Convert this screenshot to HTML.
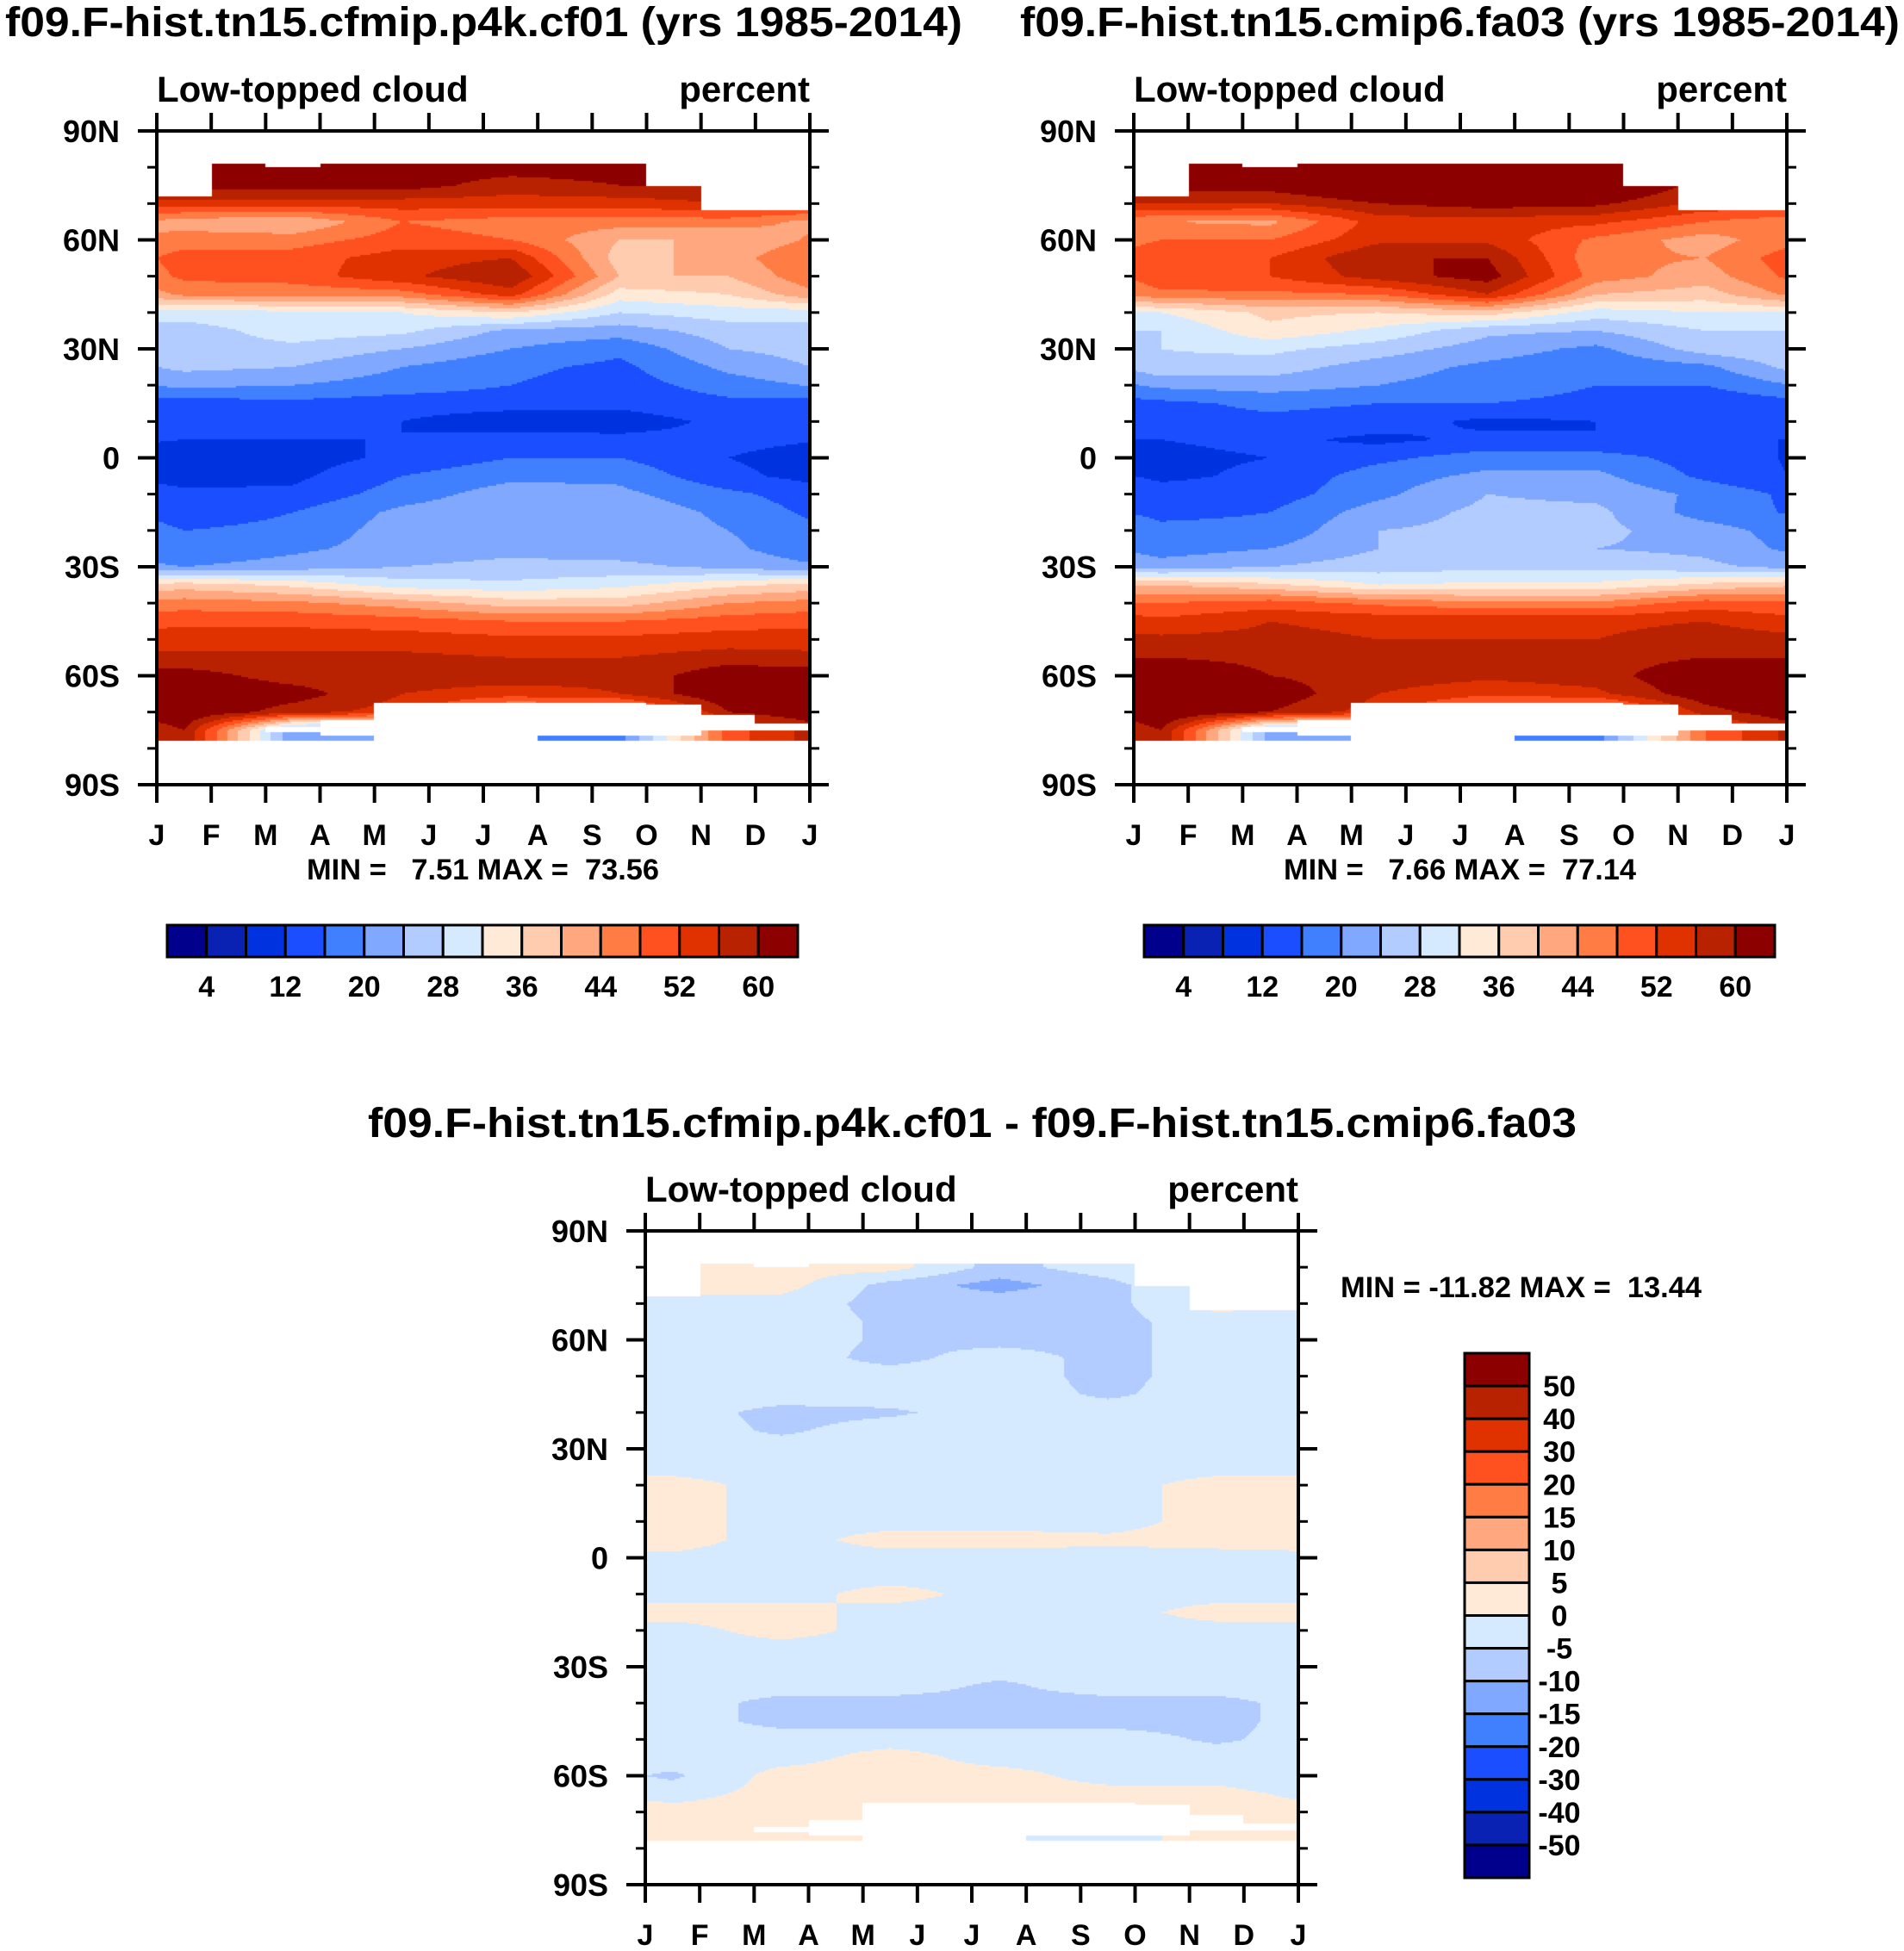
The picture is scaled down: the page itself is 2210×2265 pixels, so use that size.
<!DOCTYPE html>
<html><head><meta charset="utf-8">
<style>
html,body{margin:0;padding:0;background:#fff;}
#wrap{position:relative;width:2210px;height:2265px;overflow:hidden;}
canvas{position:absolute;}
svg{position:absolute;left:0;top:0;}
text{font-family:"Liberation Sans",sans-serif;font-weight:bold;fill:#000;}
</style></head>
<body>
<div id="wrap">
<canvas id="c1"></canvas>
<canvas id="c2"></canvas>
<canvas id="c3"></canvas>
<svg id="svg" width="2210" height="2265"></svg>
</div>
<script>
// ---- data ----
const months = ["J","F","M","A","M","J","J","A","S","O","N","D","J"];
const latTicks = [90,60,30,0,-30,-60,-90];
const latTickLabels = ["90N","60N","30N","0","30S","60S","90S"];
const gridLats = [80,75,70,65,60,55,50,45,40,35,30,25,20,15,10,5,0,-5,-10,-15,-20,-25,-30,-35,-40,-45,-50,-55,-60,-65,-70,-75];
const colMonths = [0,2,4,6,8,10]; // Jan, Mar, May, Jul, Sep, Nov
const colors = ["#00008c","#0a22b4","#0032e0","#1a4eff","#4080ff","#80a8ff","#b2ccff","#d6eaff","#ffead8","#ffccb0","#ffa880","#ff7c44","#ff5020","#e03200","#b82200","#8c0000"];
const levelsAbs = [4,8,12,16,20,24,28,32,36,40,44,48,52,56,60];
const levelsDiff = [-50,-40,-30,-20,-15,-10,-5,0,5,10,15,20,30,40,50];
const northLimit = [72,81,80,81,81,81,81,81,81,75,68,68];
const southLimit = [-78,-78,-74,-72,-67.5,-67.5,-67.5,-67.5,-67.5,-68,-71,-73];
const lowBandTop = [null,null,-75.5,-76.5,null,null,null,-76.5,-76.5,-76.5,-75,-75];

const cf01Jan = [62,62,54,42,46,50,49,45,30,26,26,25,21,14,13,12,10,10,13,14,16,16,20,38,46,51,54,57,62,64,64,60];
const cf01Mar = [62,62,54,40,46,50,50,45,31,30,27,24,20,15,13,12,10,11,13,16,17,19,22,35,45,51,54,57,58,62,58,20];
const cf01May = [62,62,54,48,50,54,55,46,32,29,24,20,18,14,12,12,13,16,18,21,22,22,24,30,42,50,54,57,58,56,54,20];
const cf01Jul = [62,58,54,46,48,56,60,54,36,23,20,17,16,14,9,14,16,19,22,23,23,23,25,29,38,48,53,56,58,54,40,18];
const cf01Sep = [62,60,54,46,40,38,40,34,28,22,17,15,14,13,10,13,16,19,21,23,23,22,25,31,38,48,53,56,57,56,40,18];
const cf01Nov = [62,60,56,46,40,42,40,36,30,26,24,21,18,15,13,13,12,13,17,19,20,21,23,35,44,50,54,58,63,64,60,50];

const fa03Jan = [62,62,56,44,48,52,51,47,32,28,28,27,21,15,14,12,11,11,14,15,17,18,22,40,48,53,57,60,64,66,65,60];
const fa03Mar = [62,62,56,43,48,52,52,47,37,35,29,26,22,17,15,13,12,13,14,16,17,20,24,37,50,56,57,59,60,63,60,22];
const fa03May = [63,66,60,54,55,60,58,48,36,31,26,22,20,16,14,11,15,18,19,22,24,24,26,32,47,55,56,58,58,56,54,20];
const fa03Jul = [68,70,62,54,55,60,62,56,38,25,22,19,18,16,11,13,18,21,24,25,25,25,27,33,45,55,56,58,57,53,42,18];
const fa03Sep = [64,67,61,53,47,45,46,40,30,24,19,17,16,15,12,12,18,21,23,25,25,24,27,33,45,55,56,58,58,55,40,18];
const fa03Nov = [60,58,55,48,42,44,42,38,32,28,26,19,16,13,12,12,14,15,19,18,22,23,25,37,50,56,58,60,64,63,58,48];

const diffJan = [2,2,-2,-2,-2,-2,-2,-2,-2,-2,-2,-2,2,2,2,2,-1,-2,-2,2,-2,-2,-2,-2,-2,-2,-2,-2,-6,-2,2,2];
const diffMar = [2,2,-2,-2,-2,-2,-2,-2,-7,-6,-2,-2,-2,-2,-2,-2,-2,-2,-2,2,2,-2,-2,-2,-7,-7,-2,-2,2,2,2,2];
const diffMay = [2,-7,-7,-6,-6,-7,-2,-2,-6,-2,-2,-2,-2,-2,-2,2,-2,-2,2,-2,-2,-2,-2,-2,-7,-7,-2,2,2,2,2,2];
const diffJul = [-7,-12,-7,-7,-7,-2,-2,-2,-2,-2,-2,-2,-2,-2,-2,2,-2,-2,-2,-2,-2,-2,-2,-6,-7,-7,-2,-2,2,2,-2,-2];
const diffSep = [-2,-7,-7,-7,-7,-7,-7,-6,-2,-2,-2,-2,-2,-2,-2,1,-2,-2,-2,-2,-2,-2,-2,-2,-7,-7,-2,-2,-2,2,2,-2];
const diffNov = [2,2,2,-2,-2,-2,-2,-2,-2,-2,-2,-2,2,2,2,2,-2,-2,-2,2,-2,-2,-2,-2,-7,-7,-6,-2,-2,2,2,2];

// ---- layout ----
const panels = [
  {id:"c1",name:"cf01",left:182,top:152,w:758,h:759,cols:[cf01Jan,cf01Mar,cf01May,cf01Jul,cf01Sep,cf01Nov],levels:levelsAbs},
  {id:"c2",name:"fa03",left:1316,top:152,w:758,h:759,cols:[fa03Jan,fa03Mar,fa03May,fa03Jul,fa03Sep,fa03Nov],levels:levelsAbs},
  {id:"c3",name:"diff",left:749,top:1429,w:758,h:759,cols:[diffJan,diffMar,diffMay,diffJul,diffSep,diffNov],levels:levelsDiff}
];

function sampleCol(col, lat){
  if(lat>=gridLats[0]) return col[0];
  const n=gridLats.length;
  if(lat<=gridLats[n-1]) return col[n-1];
  const f=(gridLats[0]-lat)/5; const i=Math.floor(f); const r=f-i;
  return col[i]*(1-r)+col[Math.min(i+1,n-1)]*r;
}
function sampleField(cols, t, lat){
  let p=((t-0.5)%12+12)%12;
  const f=p/2; const i=Math.floor(f)%6; const r=f-Math.floor(f); const j=(i+1)%6;
  return sampleCol(cols[i],lat)*(1-r)+sampleCol(cols[j],lat)*r;
}
function levelIndex(levels,v){let k=0;for(const l of levels){if(v>=l)k++;}return k;}
function isDefined(t,lat){
  const m=Math.min(11,Math.floor(t));
  if(lat>northLimit[m]) return false;
  if(lat>=southLimit[m]) return true;
  if(lowBandTop[m]!==null && lat<=lowBandTop[m] && lat>=-78) return true;
  return false;
}
for(const p of panels){
  const cv=document.getElementById(p.id);
  cv.width=p.w; cv.height=p.h;
  cv.style.left=p.left+"px"; cv.style.top=p.top+"px";
  const ctx=cv.getContext("2d");
  const step=2;
  for(let y=0;y<p.h;y+=step){
    const lat=90-(y+step/2)/p.h*180;
    for(let x=0;x<p.w;x+=step){
      const t=(x+step/2)/p.w*12;
      if(!isDefined(t,lat)) continue;
      const v=sampleField(p.cols,t,lat);
      ctx.fillStyle=colors[levelIndex(p.levels,v)];
      ctx.fillRect(x,y,step,step);
    }
  }
}

// ---- svg overlay ----
const NS="http://www.w3.org/2000/svg";
const svg=document.getElementById("svg");
function mk(tag,attrs,parent){const e=document.createElementNS(NS,tag);for(const k in attrs)e.setAttribute(k,attrs[k]);(parent||svg).appendChild(e);return e;}
function txt(s,attrs,name){
  const e=mk("text",attrs); e.textContent=s;
  
  
  return e;
}

function drawAxes(p){
  const g=mk("g",{});
  
  
  const L=p.left,T=p.top,R=p.left+p.w,B=p.top+p.h;
  const yOf=lat=>T+(90-lat)/180*p.h;
  const xOf=m=>L+m/12*p.w;
  const frame=mk("rect",{x:L,y:T,width:p.w,height:p.h,fill:"none",stroke:"#000","stroke-width":4},g);
  
  
  for(let i=0;i<months.length;i++){
    const x=xOf(i);
    mk("line",{x1:x,y1:T,x2:x,y2:T-21,stroke:"#000","stroke-width":4},g);
    mk("line",{x1:x,y1:B,x2:x,y2:B+21,stroke:"#000","stroke-width":4},g);
    txt(months[i],{x:x,y:B+70,"font-size":34,"text-anchor":"middle"},"month-label");
  }
  for(let lat=-80;lat<=80;lat+=10){
    if(lat%30===0) continue;
    const y=yOf(lat);
    mk("line",{x1:L,y1:y,x2:L-11,y2:y,stroke:"#000","stroke-width":3},g);
    mk("line",{x1:R,y1:y,x2:R+11,y2:y,stroke:"#000","stroke-width":3},g);
  }
  for(let i=0;i<latTicks.length;i++){
    const y=yOf(latTicks[i]);
    mk("line",{x1:L,y1:y,x2:L-22,y2:y,stroke:"#000","stroke-width":4},g);
    mk("line",{x1:R,y1:y,x2:R+22,y2:y,stroke:"#000","stroke-width":4},g);
    txt(latTickLabels[i],{x:L-43,y:y+13,"font-size":36,"text-anchor":"end"},"lat-label");
  }
  txt("Low-topped cloud",{x:L,y:T-34,"font-size":42},"left-subtitle-"+p.name);
  txt("percent",{x:R,y:T-34,"font-size":42,"text-anchor":"end"},"units-label-"+p.name);
}
panels.forEach(drawAxes);

// titles
txt("f09.F-hist.tn15.cfmip.p4k.cf01 (yrs 1985-2014)",{x:6,y:42,"font-size":48,textLength:1111,lengthAdjust:"spacingAndGlyphs"},"title-cf01");
txt("f09.F-hist.tn15.cmip6.fa03 (yrs 1985-2014)",{x:1184,y:42,"font-size":48,textLength:1021,lengthAdjust:"spacingAndGlyphs"},"title-fa03");
txt("f09.F-hist.tn15.cfmip.p4k.cf01 - f09.F-hist.tn15.cmip6.fa03",{x:427,y:1320,"font-size":48,textLength:1403,lengthAdjust:"spacingAndGlyphs"},"title-difference");

// min/max
function mm(s,x,w,y,name){const e=txt(s,{x:x,y:y,"font-size":34,textLength:w,lengthAdjust:"spacingAndGlyphs"},name);e.setAttribute("xml:space","preserve");e.style.whiteSpace="pre";}
mm("MIN =   7.51 MAX =  73.56",356,409,1021,"minmax-cf01");
mm("MIN =   7.66 MAX =  77.14",1490,409,1021,"minmax-fa03");
mm("MIN = -11.82 MAX =  13.44",1556,419,1506,"minmax-difference");

// horizontal colorbars
const hbarLabels = ["4","12","20","28","36","44","52","60"];
function hbar(x0,name){
  const y0=1074,w=732,h=37,bw=w/16;
  const g=mk("g",{});
  
  
  for(let i=0;i<16;i++){
    const r=mk("rect",{x:x0+i*bw,y:y0,width:bw,height:h,fill:colors[i],stroke:"#000","stroke-width":3},g);
    
    
  }
  for(let k=0;k<hbarLabels.length;k++){
    txt(hbarLabels[k],{x:x0+(2*k+1)*bw,y:1157,"font-size":34,"text-anchor":"middle"},"colorbar-label");
  }
}
hbar(194,"cf01"); hbar(1328,"fa03");

// vertical colorbar
const vbarLabels = ["50","40","30","20","15","10","5","0","-5","-10","-15","-20","-30","-40","-50"];
(function(){
  const x0=1700,y0=1571,w=75,h=609,bh=h/16;
  const g=mk("g",{});
  
  
  for(let i=0;i<16;i++){
    const r=mk("rect",{x:x0,y:y0+i*bh,width:w,height:bh,fill:colors[15-i],stroke:"#000","stroke-width":3},g);
    
    
  }
  for(let k=0;k<vbarLabels.length;k++){
    txt(vbarLabels[k],{x:1810,y:y0+(k+1)*bh+12,"font-size":34,"text-anchor":"middle"},"colorbar-label");
  }
})();
</script>
</body></html>
